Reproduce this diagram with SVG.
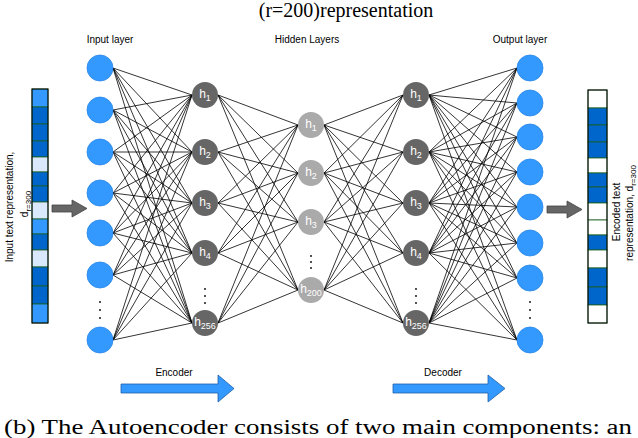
<svg xmlns="http://www.w3.org/2000/svg" width="638" height="438" viewBox="0 0 638 438">
<style>
.lbl{font-family:"Liberation Sans",Arial,sans-serif;font-size:10px;fill:#000;text-anchor:middle}
.hl{font-family:"Liberation Sans",Arial,sans-serif;font-size:12px;fill:#fff;text-anchor:middle}
.in{fill:#3399ff;stroke:#2a86e6;stroke-width:0.8}
.dk{fill:#666}
.md{fill:#aaa}
.e{stroke:#000;stroke-width:0.8;fill:none}
.dot{fill:#000}
.cell{stroke:#1a5e20;stroke-width:0.8}
.serif{font-family:"Liberation Serif","Times New Roman",serif;font-size:20px;fill:#000}
</style>
<rect width="638" height="438" fill="#fff"/>
<text class="serif" x="346" y="17" text-anchor="middle">(r=200)representation</text>
<text class="lbl" x="110" y="43">Input layer</text>
<text class="lbl" x="307" y="43">Hidden Layers</text>
<text class="lbl" x="520" y="43">Output layer</text>

<g id="connectors">
<path class="e" d="M113 68L192 95M113 68L192 152M113 68L192 203M113 68L192 253M113 68L192 323
M113 110L192 95M113 110L192 152M113 110L192 203M113 110L192 253M113 110L192 323
M113 152L192 95M113 152L192 152M113 152L192 203M113 152L192 253M113 152L192 323
M113 193L192 95M113 193L192 152M113 193L192 203M113 193L192 253M113 193L192 323
M113 233L192 95M113 233L192 152M113 233L192 203M113 233L192 253M113 233L192 323
M113 275L192 95M113 275L192 152M113 275L192 203M113 275L192 253M113 275L192 323
M113 340L192 95M113 340L192 152M113 340L192 203M113 340L192 253M113 340L192 323"/>
<path class="e" d="M218 95L298 125M218 95L298 173M218 95L298 222M218 95L298 290
M218 152L298 125M218 152L298 173M218 152L298 222M218 152L298 290
M218 203L298 125M218 203L298 173M218 203L298 222M218 203L298 290
M218 253L298 125M218 253L298 173M218 253L298 222M218 253L298 290
M218 323L298 125M218 323L298 173M218 323L298 222M218 323L298 290"/>
<path class="e" d="M324 125L403 95M324 125L403 152M324 125L403 203M324 125L403 253M324 125L403 323
M324 173L403 95M324 173L403 152M324 173L403 203M324 173L403 253M324 173L403 323
M324 222L403 95M324 222L403 152M324 222L403 203M324 222L403 253M324 222L403 323
M324 290L403 95M324 290L403 152M324 290L403 203M324 290L403 253M324 290L403 323"/>
<path class="e" d="M429 95L517 68M429 95L517 103M429 95L517 137M429 95L517 172M429 95L517 207M429 95L517 243M429 95L517 278M429 95L517 340
M429 152L517 68M429 152L517 103M429 152L517 137M429 152L517 172M429 152L517 207M429 152L517 243M429 152L517 278M429 152L517 340
M429 203L517 68M429 203L517 103M429 203L517 137M429 203L517 172M429 203L517 207M429 203L517 243M429 203L517 278M429 203L517 340
M429 253L517 68M429 253L517 103M429 253L517 137M429 253L517 172M429 253L517 207M429 253L517 243M429 253L517 278M429 253L517 340
M429 323L517 68M429 323L517 103M429 323L517 137M429 323L517 172M429 323L517 207M429 323L517 243M429 323L517 278M429 323L517 340"/>
<polygon points="52,205 72,205 72,200 87,208.5 72,217 72,212 52,212" fill="#666" stroke="#444" stroke-width="0.8"/>
<polygon points="547,206 567,206 567,201 582,209.5 567,218 567,213 547,213" fill="#666" stroke="#444" stroke-width="0.8"/>
<polygon points="121,384 218,384 218,375 234,388.5 218,402 218,393 121,393" fill="#3399ff" stroke="#1f5fa8" stroke-width="0.8"/>
<polygon points="393,384 488,384 488,375 505,388.5 488,402 488,393 393,393" fill="#3399ff" stroke="#1f5fa8" stroke-width="0.8"/>
</g>

<g id="input-layer">
<circle class="in" cx="100" cy="68" r="13"/><circle class="in" cx="100" cy="110" r="13"/>
<circle class="in" cx="100" cy="152" r="13"/><circle class="in" cx="100" cy="193" r="13"/>
<circle class="in" cx="100" cy="233" r="13"/><circle class="in" cx="100" cy="275" r="13"/>
<circle class="in" cx="100" cy="340" r="13"/>
<circle class="dot" cx="100" cy="302" r="0.9"/><circle class="dot" cx="100" cy="310" r="0.9"/><circle class="dot" cx="100" cy="318" r="0.9"/>
</g>
<g id="encoder-hidden">
<circle class="dk" cx="205" cy="95" r="13"/><circle class="dk" cx="205" cy="152" r="13"/>
<circle class="dk" cx="205" cy="203" r="13"/><circle class="dk" cx="205" cy="253" r="13"/>
<circle class="dk" cx="205" cy="323" r="13"/>
<text class="hl" x="205" y="98">h<tspan font-size="9" dy="3">1</tspan></text>
<text class="hl" x="205" y="155">h<tspan font-size="9" dy="3">2</tspan></text>
<text class="hl" x="205" y="206">h<tspan font-size="9" dy="3">3</tspan></text>
<text class="hl" x="205" y="256">h<tspan font-size="9" dy="3">4</tspan></text>
<text class="hl" x="205" y="326">h<tspan font-size="9" dy="3">256</tspan></text>
<circle class="dot" cx="205" cy="289" r="0.9"/><circle class="dot" cx="205" cy="296" r="0.9"/><circle class="dot" cx="205" cy="303" r="0.9"/>
</g>
<g id="middle-hidden">
<circle class="md" cx="311" cy="125" r="13"/><circle class="md" cx="311" cy="173" r="13"/>
<circle class="md" cx="311" cy="222" r="13"/><circle class="md" cx="311" cy="290" r="13"/>
<text class="hl" x="311" y="128">h<tspan font-size="9" dy="3">1</tspan></text>
<text class="hl" x="311" y="176">h<tspan font-size="9" dy="3">2</tspan></text>
<text class="hl" x="311" y="225">h<tspan font-size="9" dy="3">3</tspan></text>
<text class="hl" x="311" y="293">h<tspan font-size="9" dy="3">200</tspan></text>
<circle class="dot" cx="311" cy="256" r="0.9"/><circle class="dot" cx="311" cy="262" r="0.9"/><circle class="dot" cx="311" cy="268" r="0.9"/>
</g>
<g id="decoder-hidden">
<circle class="dk" cx="416" cy="95" r="13"/><circle class="dk" cx="416" cy="152" r="13"/>
<circle class="dk" cx="416" cy="203" r="13"/><circle class="dk" cx="416" cy="253" r="13"/>
<circle class="dk" cx="416" cy="323" r="13"/>
<text class="hl" x="416" y="98">h<tspan font-size="9" dy="3">1</tspan></text>
<text class="hl" x="416" y="155">h<tspan font-size="9" dy="3">2</tspan></text>
<text class="hl" x="416" y="206">h<tspan font-size="9" dy="3">3</tspan></text>
<text class="hl" x="416" y="256">h<tspan font-size="9" dy="3">4</tspan></text>
<text class="hl" x="416" y="326">h<tspan font-size="9" dy="3">256</tspan></text>
<circle class="dot" cx="416" cy="289" r="0.9"/><circle class="dot" cx="416" cy="296" r="0.9"/><circle class="dot" cx="416" cy="303" r="0.9"/>
</g>
<g id="output-layer">
<circle class="in" cx="530" cy="68" r="13"/><circle class="in" cx="530" cy="103" r="13"/>
<circle class="in" cx="530" cy="137" r="13"/><circle class="in" cx="530" cy="172" r="13"/>
<circle class="in" cx="530" cy="207" r="13"/><circle class="in" cx="530" cy="243" r="13"/>
<circle class="in" cx="530" cy="278" r="13"/><circle class="in" cx="530" cy="340" r="13"/>
<circle class="dot" cx="530" cy="302" r="0.9"/><circle class="dot" cx="530" cy="310" r="0.9"/><circle class="dot" cx="530" cy="318" r="0.9"/>
</g>

<g id="input-vector">
<rect class="cell" x="32" y="89" width="16" height="18" fill="#3399ff"/>
<rect class="cell" x="32" y="107" width="16" height="17" fill="#0066cc"/>
<rect class="cell" x="32" y="124" width="16" height="17" fill="#0066cc"/>
<rect class="cell" x="32" y="141" width="16" height="16" fill="#0066cc"/>
<rect class="cell" x="32" y="157" width="16" height="15" fill="#dae8fc" stroke="#6c8ebf"/>
<rect class="cell" x="32" y="172" width="16" height="14" fill="#0066cc"/>
<rect class="cell" x="32" y="186" width="16" height="16" fill="#0066cc"/>
<rect class="cell" x="32" y="202" width="16" height="17" fill="#dae8fc"/>
<rect class="cell" x="32" y="219" width="16" height="15" fill="#3399ff"/>
<rect class="cell" x="32" y="234" width="16" height="16" fill="#0066cc"/>
<rect class="cell" x="32" y="250" width="16" height="17" fill="#dae8fc" stroke="#6c8ebf"/>
<rect class="cell" x="32" y="267" width="16" height="19" fill="#0066cc"/>
<rect class="cell" x="32" y="286" width="16" height="18" fill="#0066cc"/>
<rect class="cell" x="32" y="304" width="16" height="19" fill="#3399ff"/>
<rect x="32" y="89" width="16" height="234" fill="none" stroke="#000" stroke-width="1"/>
<text class="lbl" font-size="11" transform="translate(13 207) rotate(-90)">Input text representation,</text>
<text class="lbl" font-size="11" transform="translate(28 204) rotate(-90)">d<tspan font-size="8" dy="3">r=300</tspan></text>
</g>
<g id="output-vector">
<rect class="cell" x="588" y="90" width="19" height="18" fill="#fff"/>
<rect class="cell" x="588" y="108" width="19" height="17" fill="#0066cc"/>
<rect class="cell" x="588" y="125" width="19" height="17" fill="#0066cc"/>
<rect class="cell" x="588" y="142" width="19" height="16" fill="#0066cc"/>
<rect class="cell" x="588" y="158" width="19" height="15" fill="#fff" stroke="#6c8ebf"/>
<rect class="cell" x="588" y="173" width="19" height="14" fill="#0066cc"/>
<rect class="cell" x="588" y="187" width="19" height="16" fill="#0066cc"/>
<rect class="cell" x="588" y="203" width="19" height="17" fill="#fff"/>
<rect class="cell" x="588" y="220" width="19" height="15" fill="#fff"/>
<rect class="cell" x="588" y="235" width="19" height="15" fill="#0066cc"/>
<rect class="cell" x="588" y="250" width="19" height="18" fill="#fff" stroke="#6c8ebf"/>
<rect class="cell" x="588" y="268" width="19" height="19" fill="#0066cc"/>
<rect class="cell" x="588" y="287" width="19" height="18" fill="#0066cc"/>
<rect class="cell" x="588" y="305" width="19" height="18" fill="#fff"/>
<rect x="588" y="90" width="19" height="233" fill="none" stroke="#000" stroke-width="1"/>
<text class="lbl" font-size="11" transform="translate(620 212) rotate(-90)">Encoded text</text>
<text class="lbl" font-size="11" transform="translate(633 213) rotate(-90)">representation, d<tspan font-size="8" dy="3">r=300</tspan></text>
</g>

<text class="lbl" x="174" y="376">Encoder</text>
<text class="lbl" x="443" y="376">Decoder</text>
<text class="serif" x="4" y="434" font-size="19" textLength="628" lengthAdjust="spacingAndGlyphs">(b) The Autoencoder consists of two main components: an</text>
</svg>
